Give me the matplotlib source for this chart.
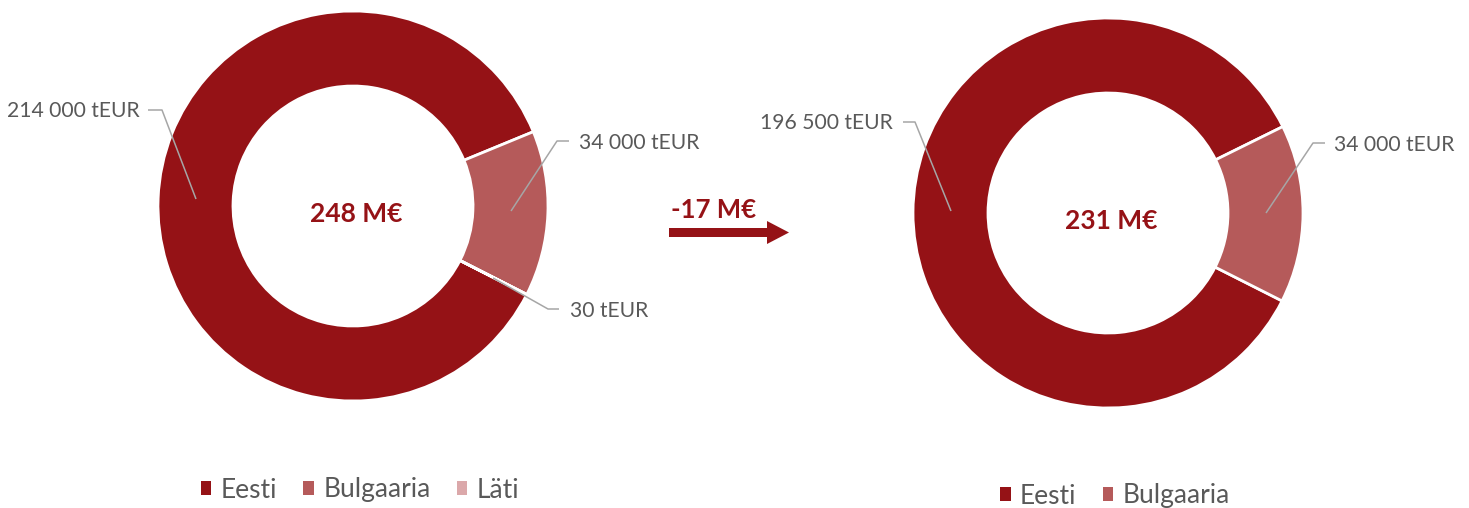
import matplotlib.pyplot as plt
from matplotlib.font_manager import FontProperties

# data
labels_before = ["Eesti", "Bulgaaria", "Läti"]
values_before = [214000, 34000, 30]
labels_after = ["Eesti", "Bulgaaria"]
values_after = [196500, 34000]
total_before = "248 M€"
total_after = "231 M€"
change = "-17 M€"

colors = ["#951216", "#b55a5a", "#dba8aa"]
dark = "#951216"
grey_txt = "#595959"
grey_line = "#a6a6a6"

W, H = 1469, 508
plt.rcParams["font.family"] = ["Lato", "DejaVu Sans"]


def fmt(v):
    return f"{v:,}".replace(",", " ") + " tEUR"


def main():
    fig = plt.figure(figsize=(W / 100, H / 100), dpi=100)
    ax = fig.add_axes([0, 0, 1, 1])

    wp = dict(width=75, edgecolor="white", linewidth=2)
    w1, _ = ax.pie(values_before, colors=colors, radius=195,
                   center=(353, H - 206), startangle=-27,
                   counterclock=False, wedgeprops=wp)
    w2, _ = ax.pie(values_after, colors=colors[:2], radius=195,
                   center=(1108, H - 213), startangle=-26.8,
                   counterclock=False, wedgeprops=wp)
    ax.set_xlim(0, W)
    ax.set_ylim(0, H)
    ax.set_aspect("auto")
    ax.axis("off")

    # leader lines + labels (pixel coords, y from top)
    leaders = [
        ([(196, 199), (162, 110), (148, 110)], values_before[0], 140, 111, "right"),
        ([(511, 211), (557, 141), (569, 141)], values_before[1], 579, 143, "left"),
        ([(493, 278), (548, 309), (559, 309)], values_before[2], 570, 311, "left"),
        ([(951, 211), (915, 122), (903, 122)], values_after[0], 893, 123, "right"),
        ([(1266, 213), (1313, 143), (1325, 143)], values_after[1], 1334, 145, "left"),
    ]
    for pts, val, tx, ty, ha in leaders:
        xs = [p[0] for p in pts]
        ys = [H - p[1] for p in pts]
        ax.plot(xs, ys, color=grey_line, lw=1.1, solid_capstyle="butt")
        ax.text(tx, H - ty, fmt(val), ha=ha, va="center",
                fontsize=15.2, color=grey_txt)

    ax.text(356, H - 214.5, total_before, ha="center", va="center",
            fontsize=19, fontweight="bold", color=dark)
    ax.text(1111, H - 221, total_after, ha="center", va="center",
            fontsize=19, fontweight="bold", color=dark)

    ax.text(714, H - 210, change, ha="center", va="center",
            fontsize=18.5, fontweight="bold", color=dark)
    ax.arrow(669, H - 232.5, 120, 0, width=9, head_width=23,
             head_length=22, length_includes_head=True,
             color=dark, lw=0)

    fp = FontProperties(family="Lato", size=19)
    opts = dict(loc="center", frameon=False, prop=fp, handlelength=0.4,
                handleheight=0.4, handletextpad=0.35, columnspacing=1.0,
                labelcolor=grey_txt, borderpad=0)
    leg1 = ax.legend(w1, labels_before, ncol=3,
                     bbox_to_anchor=(360 / W, 1 - 490 / H), **opts)
    for h in leg1.legend_handles:
        h.set_edgecolor("none")
    ax.add_artist(leg1)
    leg2 = ax.legend(w2, labels_after, ncol=2,
                     bbox_to_anchor=(1115 / W, 1 - 496 / H), **opts)
    for h in leg2.legend_handles:
        h.set_edgecolor("none")

    fig.savefig("out.png", dpi=100, facecolor="white")


if __name__ == "__main__":
    main()
